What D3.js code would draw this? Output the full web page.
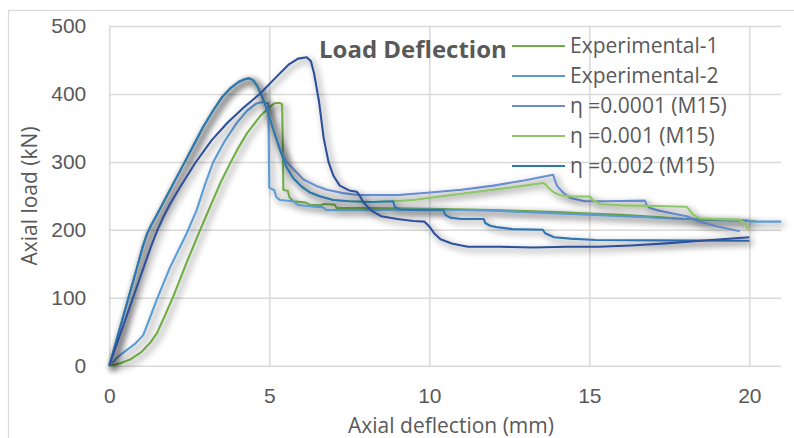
<!DOCTYPE html>
<html>
<head>
<meta charset="utf-8">
<script src="https://cdnjs.cloudflare.com/ajax/libs/d3/7.8.5/d3.min.js"></script>
<style>
body { margin: 0; background: #fff; }
svg { display: block; font-family: "Open Sans", sans-serif; }
.axiss text { fill: #595959; font-size: 21px; }
.axiss line { stroke: #d9d9d9; stroke-width: 1.5; }
.axiss .domain { display: none; }
</style>
</head>
<body>
<div id="chart"></div>
<script>
// deflection (mm), load (kN)
var exp1 = [[0,0],[0.3,3],[0.65,9],[1.0,20],[1.3,35],[1.49,48],[1.75,75],[2.0,102],[2.4,150],[2.84,200],[3.15,234],[3.5,272],[3.8,300],[4.0,318],[4.3,342],[4.71,367],[5.02,381],[5.15,386],[5.3,387],[5.4,385],[5.43,300],[5.44,259],[5.58,257],[5.63,248],[5.75,242],[6.15,240],[6.25,237],[6.6,236],[6.7,238],[7.05,237],[7.1,232],[8,232],[10,231],[12,229],[14,226],[15,224],[16,222],[17,219],[18,216],[19,214],[20.2,213]];

var exp2 = [[0,0],[0.2,10],[0.43,19],[0.8,32],[1.06,45],[1.25,68],[1.48,97],[1.9,145],[2.42,195],[2.73,229],[3.0,268],[3.25,300],[3.6,330],[3.98,357],[4.3,375],[4.6,386],[4.8,388],[4.97,386],[4.99,300],[5.0,262],[5.16,258],[5.22,248],[5.33,244],[5.75,242],[5.88,237],[6.17,235],[6.68,233],[6.78,229],[8,229],[10,230],[12,228],[14,224],[16,220],[18,216],[19,215],[19.95,214],[20.05,212],[21,212]];

var etaRise = [[0,0],[0.3,50],[0.6,100],[0.9,150],[1.05,176],[1.18,194],[1.3,206],[1.45,219],[1.6,232],[1.8,250],[2.0,268],[2.36,300],[2.65,326],[2.94,352],[3.25,376],[3.52,395],[3.8,409],[4.05,418],[4.25,422],[4.38,423],[4.5,420],[4.62,412],[4.75,399],[4.88,383],[5.0,366],[5.15,344]];

var eta0001Tail = [[5.33,320],[5.54,300],[6.07,274],[6.5,264],[6.8,259],[7.3,254],[7.83,251],[9.0,251],[10.03,255],[11,259],[12,265],[13,273],[13.87,281],[13.93,272],[14.0,264],[14.2,254],[14.4,247],[14.86,242],[15.5,242],[16.74,243],[16.8,236],[16.9,232],[17.1,229],[17.6,224],[18.04,220],[18.46,212],[19,205],[19.7,198]];

var etaLow = [[5.33,318],[5.54,292],[5.75,276],[6.0,264],[6.27,255],[6.6,249],[7.0,244],[7.5,242],[8.2,241],[8.87,242]];

var eta001Tail = [[9.5,244],[10.33,249],[11.5,256],[12.5,262],[13.56,269],[13.65,266],[13.72,262],[13.9,255],[14.08,251],[14.5,249],[15.03,249],[15.1,244],[15.34,238],[16,236],[17,235],[18.04,234],[18.15,228],[18.25,222],[18.46,217],[19.0,216],[19.7,215],[19.85,210],[19.97,200]];

var eta0002Tail = [[8.92,234],[9.08,230],[9.6,229],[10.44,229],[10.5,222],[10.65,218],[11.0,216],[11.7,216],[11.75,210],[11.9,206],[12.1,204],[12.6,201],[13.55,200],[13.62,195],[13.9,189],[14.4,187],[15.2,185],[17,184.5],[20,184]];

var navy = [[0,0],[0.74,100],[1.3,175],[1.49,198],[1.7,220],[1.9,238],[2.2,262],[2.68,298],[3.2,332],[3.7,358],[4.2,380],[4.7,400],[5.2,424],[5.6,443],[5.9,452],[6.17,454],[6.3,448],[6.4,430],[6.55,390],[6.7,335],[6.85,300],[7.0,280],[7.2,265],[7.5,258],[7.73,256],[7.8,252],[7.95,240],[8.2,228],[8.5,220],[9.0,216],[9.5,213],[9.85,212],[10.0,205],[10.15,195],[10.35,186],[10.7,180],[11.2,175],[12.2,175],[13.25,174],[14.3,175],[15.3,175],[16.3,177],[17.4,180],[18.5,184],[20,189]];

var seriesNames = ["Experimental-1", "Experimental-2", "\u03b7 =0.0001 (M15)", "\u03b7 =0.001 (M15)", "\u03b7 =0.002 (M15)", ""];
var seriesColours = ["#70AD47", "#5B9BD5", "#6A8ED3", "#8CC665", "#2E75B6", "#2F4F9A"];
var seriesData = [exp1, exp2, etaRise.concat(eta0001Tail), etaRise.concat(etaLow, eta001Tail), etaRise.concat(etaLow, eta0002Tail), navy];

var xTicks = [0, 5, 10, 15, 20],
    yTicks = [0, 100, 200, 300, 400, 500];

var W = 794, H = 438;
var margin = {left: 109.3, top: 26, right: 14, bottom: 72},
    width = 672,
    height = 339.7;

var svg = d3.select("#chart").append("svg")
    .attr("width", W)
    .attr("height", H);

var defs = svg.append("defs");
var f = defs.append("filter").attr("id", "shadow")
    .attr("x", "-10%").attr("y", "-10%").attr("width", "130%").attr("height", "130%");
f.append("feGaussianBlur").attr("in", "SourceAlpha").attr("stdDeviation", 3.5);
f.append("feOffset").attr("dx", 3).attr("dy", 3).attr("result", "off");
f.append("feComponentTransfer").append("feFuncA").attr("type", "linear").attr("slope", 0.6);
var fm = f.append("feMerge");
fm.append("feMergeNode");
fm.append("feMergeNode").attr("in", "SourceGraphic");

// outer chart border
svg.append("rect")
    .attr("x", 8.5).attr("y", 10.5)
    .attr("width", 820).attr("height", 460)
    .attr("fill", "none").attr("stroke", "#d9d9d9").attr("stroke-width", 1.2);

var x = d3.scaleLinear().domain([0, 21]).range([0, width]),
    y = d3.scaleLinear().domain([0, 500]).range([height, 0]);

var g = svg.append("g")
    .attr("transform", "translate(" + margin.left + "," + margin.top + ")");

g.append("g")
    .attr("class", "axiss axis--y")
    .call(d3.axisLeft(y).tickValues(yTicks).tickSizeInner(-width).tickSizeOuter(0).tickPadding(23));

g.append("g")
    .attr("class", "axiss axis--x")
    .attr("transform", "translate(0," + height + ")")
    .call(d3.axisBottom(x).tickValues(xTicks).tickSizeInner(-height).tickSizeOuter(0).tickPadding(22));

var line = d3.line()
    .x(function(d) { return x(d[0]); })
    .y(function(d) { return y(d[1]); });

g.selectAll(".curve")
    .data(seriesData)
  .enter().append("path")
    .attr("class", "curve")
    .attr("d", line)
    .attr("fill", "none")
    .attr("stroke", function(d, i) { return seriesColours[i]; })
    .attr("stroke-width", 2.1)
    .attr("stroke-linejoin", "round")
    .attr("filter", "url(#shadow)");

// title
svg.append("text")
    .attr("x", 319).attr("y", 58)
    .attr("font-size", 24).attr("font-weight", "bold")
    .attr("fill", "#595959")
    .text("Load Deflection");

// legend
var leg = svg.selectAll(".leg")
    .data(seriesNames.slice(0, 5))
  .enter().append("g")
    .attr("class", "leg")
    .attr("transform", function(d, i) { return "translate(512," + (46 + i * 30) + ")"; });
leg.append("line")
    .attr("x1", 0).attr("x2", 53)
    .attr("stroke", function(d, i) { return seriesColours[i]; })
    .attr("stroke-width", 2.2);
leg.append("text")
    .attr("x", 58).attr("dy", "0.35em")
    .attr("font-size", 21).attr("fill", "#595959")
    .text(function(d) { return d; });

// axis titles
svg.append("text")
    .attr("x", 451).attr("y", 433)
    .attr("text-anchor", "middle")
    .attr("font-size", 21).attr("fill", "#595959")
    .text("Axial deflection (mm)");

svg.append("text")
    .attr("transform", "translate(37,196) rotate(-90)")
    .attr("text-anchor", "middle")
    .attr("font-size", 21).attr("fill", "#595959")
    .text("Axial load (kN)");
</script>
</body>
</html>
